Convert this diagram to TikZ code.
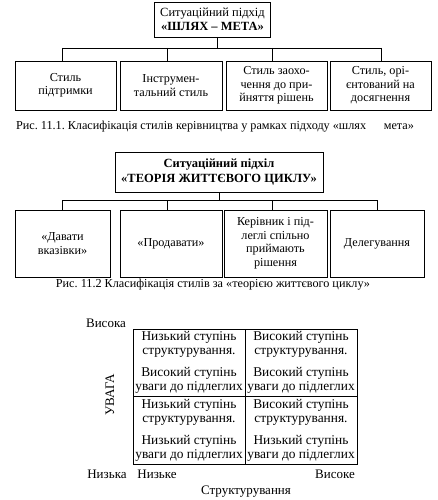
\documentclass[tikz,border=0pt]{standalone}
\usepackage{fontspec}
\setmainfont{Liberation Serif}
\frenchspacing
\begin{document}
\begin{tikzpicture}[x=1pt,y=-1pt,
  every node/.style={inner sep=0pt, outer sep=0pt},
  box/.style={draw, line width=0.9pt, align=center, font=\fontsize{12.2}{13.5}\selectfont},
  cell/.style={draw, line width=0.9pt, align=center, minimum width=112pt, minimum height=67.5pt, font=\fontsize{13.4}{14}\selectfont},
  captext/.style={font=\fontsize{12.2}{14}\selectfont},
  lbl/.style={font=\fontsize{13}{15}\selectfont},
  conn/.style={line width=0.9pt}]
\useasboundingbox (0,0) rectangle (438,500);
\fill[white] (0,0) rectangle (438,500);

% ---- diagram 1
\node[box, minimum width=116pt, minimum height=35pt, font=\fontsize{12.5}{14}\selectfont] (t1) at (212.5,19.5) {Ситуаційний підхід\\\textbf{«ШЛЯХ – МЕТА»}};
\node[box, minimum width=101pt, minimum height=49pt] (b1) at (65.5,85.5) {Стиль\\підтримки};
\node[box, minimum width=102pt, minimum height=49pt] (b2) at (171,85.5) {Інструмен-\\тальний стиль};
\node[box, minimum width=101pt, minimum height=49pt] (b3) at (276.5,85.5) {Стиль заохо-\\чення до при-\\йняття рішень};
\node[box, minimum width=101pt, minimum height=49pt] (b4) at (380.5,85.5) {Стиль, орі-\\єнтований на\\досягнення};
\coordinate (s1) at (217,48);
\coordinate (d1) at (62,48);
\coordinate (d2) at (167,48);
\coordinate (d3) at (272,48);
\coordinate (d4) at (381,48);
\draw[conn] (t1.south -| s1) -- (s1);
\draw[conn] (d1) -- (d4);
\draw[conn] (d1) -- (d1 |- b1.north);
\draw[conn] (d2) -- (d2 |- b2.north);
\draw[conn] (d3) -- (d3 |- b3.north);
\draw[conn] (d4) -- (d4 |- b4.north);
\node[captext] (cap1) at (215,127) {Рис. 11.1. Класифікація стилів керівництва у рамках підходу «шлях\hspace{1.2em} мета»};

% ---- diagram 2
\node[box, minimum width=208pt, minimum height=40pt, font=\fontsize{12.5}{14.5}\selectfont\bfseries] (t2) at (219,172) {Ситуаційний підхіл\\«ТЕОРІЯ ЖИТТЄВОГО ЦИКЛУ»};
\node[box, minimum width=95pt, minimum height=67pt] (c1) at (62.5,243.5) {«Давати\\вказівки»};
\node[box, minimum width=102pt, minimum height=67pt] (c2) at (171,243.5) {«Продавати»};
\node[box, minimum width=103pt, minimum height=67pt] (c3) at (275.5,243.5) {Керівник і під-\\леглі спільно\\приймають\\рішення};
\node[box, minimum width=94pt, minimum height=67pt] (c4) at (377,243.5) {Делегування};
\coordinate (s2) at (219,200);
\coordinate (e1) at (62,200);
\coordinate (e2) at (167,200);
\coordinate (e3) at (272,200);
\coordinate (e4) at (377,200);
\draw[conn] (t2.south -| s2) -- (s2);
\draw[conn] (e1) -- (e4);
\draw[conn] (e1) -- (e1 |- c1.north);
\draw[conn] (e2) -- (e2 |- c2.north);
\draw[conn] (e3) -- (e3 |- c3.north);
\draw[conn] (e4) -- (e4 |- c4.north);
\node[captext] (cap2) at (213,285) {Рис. 11.2 Класифікація стилів за «теорією життєвого циклу»};

% ---- matrix
\node[cell] (m11) at (189,362.75) {Низький ступінь\\структурування.\\[8pt]Високий ступінь\\уваги до підлеглих};
\node[cell] (m12) at (301,362.75) {Високий ступінь\\структурування.\\[8pt]Високий ступінь\\уваги до підлеглих};
\node[cell] (m21) at (189,430.25) {Низький ступінь\\структурування.\\[8pt]Низький ступінь\\уваги до підлеглих};
\node[cell] (m22) at (301,430.25) {Високий ступінь\\структурування.\\[8pt]Низький ступінь\\уваги до підлеглих};
\node[lbl] (hi) at (106,323) {Висока};
\node[lbl, rotate=90] (uv) at (110,395) {УВАГА};
\node[lbl] (lo) at (107,474) {Низька};
\node[lbl] (xlo) at (157,474) {Низьке};
\node[lbl] (xhi) at (335,474) {Високе};
\node[lbl] (st) at (246,492) {Структурування};
\end{tikzpicture}
\end{document}
